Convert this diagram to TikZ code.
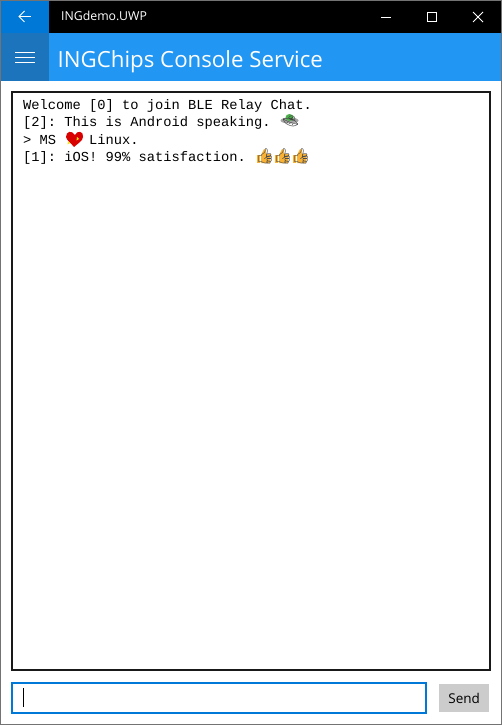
\documentclass[tikz,border=0pt]{standalone}
\usepackage{xcolor}
\usepackage{fontspec}
\setmainfont{Open Sans}
\setmonofont{Liberation Mono}
\newfontfamily\emojifont{Noto Emoji}
\definecolor{winblue}{HTML}{0078D7}
\definecolor{headblue}{HTML}{2196F3}
\definecolor{menublue}{HTML}{1C75BC}
\definecolor{sendgray}{HTML}{CCCCCC}
\definecolor{thumbgold}{HTML}{F9B233}
\tikzset{
  bar/.style={draw=none, inner sep=0pt, anchor=north west},
  chatline/.style={anchor=base west, inner sep=0pt, font=\ttfamily\fontsize{13.75}{16}\selectfont},
  emoji/.style={anchor=base west, inner sep=0pt, font=\emojifont\fontsize{15}{16}\selectfont},
  winicon/.style={white, line width=1pt}
}

\begin{document}
\begin{tikzpicture}[x=1pt, y=-1pt]
\useasboundingbox (0,0) rectangle (502,725);
\fill[white] (0,0) rectangle (502,725);

% window frame and title bar
\node[bar, fill=black, minimum width=502pt, minimum height=33pt] (titlebar) at (0,0) {};
\node[bar, fill=headblue, minimum width=502pt, minimum height=48pt] (header) at (0,33) {};
\node[bar, fill=winblue, minimum width=49pt, minimum height=32pt] (backbtn) at (0,1) {};
\node[bar, fill=menublue, minimum width=49pt, minimum height=48pt] (menubtn) at (0,33) {};
\draw[gray!90!black] (0.5,0.5) rectangle (501.5,724.5);

\node[anchor=base west, inner sep=0pt, white, font=\fontsize{12.3}{14}\selectfont] (apptitle) at (61,21) {INGdemo.UWP};
\node[anchor=base west, inner sep=0pt, white, font=\fontsize{22.25}{26}\selectfont] (pagetitle) at (57.5,67) {INGChips Console Service};

% back arrow
\coordinate (A) at (19,16.5);
\draw[winicon] (A) -- (31,16.5);
\draw[winicon] (24.5,11) -- (A) -- (24.5,22);

% hamburger
\foreach \y in {52,57,62} \draw[winicon] (15,\y.5) -- (35,\y.5);

% window buttons
\draw[winicon] (381,17.5) -- (391,17.5);
\draw[winicon] (427.5,12.5) rectangle (436.5,21.5);
\draw[winicon] (473,12) -- (483,22);
\draw[winicon] (483,12) -- (473,22);

% chat box
\node[bar, draw=black!90, line width=2pt, fill=white, minimum width=478pt, minimum height=578pt] (chatbox) at (11,91) {};
\node[chatline] (line0) at (23,109) {Welcome [0] to join BLE Relay Chat.};
\node[chatline] (line1) at (23,126) {[2]: This is Android speaking.};
\node[chatline] (line2) at (23,144) {> MS};
\node[chatline] (line2b) at (89,144) {Linux.};
\node[chatline] (line3) at (23,161) {[1]: iOS! 99\% satisfaction.};

% emoji
\fill[gray!70] (289.5,120.5) ellipse (9pt and 3pt);
\fill[green!55!black!70] (289.5,117.5) ellipse (4pt and 3.5pt);
\node[emoji, black!75] (ufo) at (281,126) {^^^^^^01f6f8};
\fill[red!85!black] (75,135) .. controls (72,130) and (66,131) .. (66,137) .. controls (67,141) and (72,144) .. (74,147) .. controls (77,144) and (83,141) .. (83,137) .. controls (84,131) and (77,130) .. (75,135) -- cycle;
\fill[yellow!90!orange] (68,141) -- (70,143) -- (67.5,144.5) -- cycle;
\fill[yellow!90!orange] (77,137) -- (79,139) -- (76.5,140.5) -- cycle;
\foreach \x/\n in {256/a,274/b,292/c} {
  \fill[thumbgold] (\x+1,155) rectangle (\x+4,163);
  \fill[thumbgold] (\x+5,155) -- (\x+8,149) -- (\x+10,150) -- (\x+10,154) -- (\x+15,154) -- (\x+14,163) -- (\x+5,163) -- cycle;
  \node[emoji, black!70] (thumb\n) at (\x-0.5,161.5) {^^^^^^01f44d};
}

% input row
\node[bar, draw=winblue, line width=2pt, fill=white, minimum width=414pt, minimum height=30pt] (inputbox) at (11,682) {};
\coordinate (caretA) at (23.5,688);
\coordinate (caretB) at (23.5,707);
\draw (caretA) -- (caretB);
\node[bar, fill=sendgray, minimum width=50pt, minimum height=28pt] (sendbtn) at (439,684) {};
\node[inner sep=0pt, font=\fontsize{13.5}{16}\selectfont] (sendlabel) at (sendbtn.center) {Send};
\end{tikzpicture}
\end{document}
